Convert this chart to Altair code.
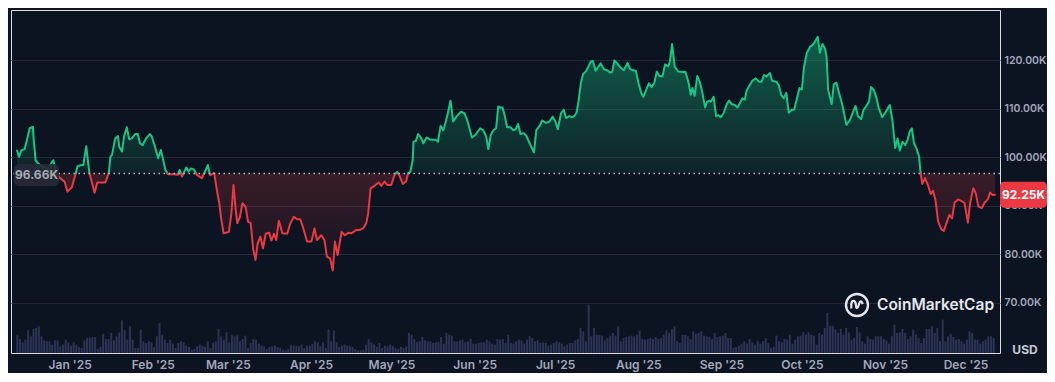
import altair as alt
import pandas as pd

START = pd.Timestamp("2024-12-12")
BASE = 96.66
LAST = 92.25
GREEN = "#16c784"
RED = "#ea3943"
BG = "#0d1421"
GRID = "#262a36"
LABEL = "#a1a7bb"
VOLC = "#2c3456"

# days since 2024-12-12 and BTC price in thousands USD
day = [0.4, 1.1, 2.0, 3.2, 4.1, 5.1, 6.3, 6.6, 7.3, 8.1, 9.2, 10.7, 12.2, 13.2, 13.9, 14.8, 15.9, 17.3, 18.1, 19.2,
       20.8, 22.3, 22.9, 24.1, 25.1, 26.2, 26.9, 27.4, 28.4, 29.3, 30.3, 31.5, 33.3, 34.6, 35.2, 35.8, 37.0, 38.0, 38.5, 39.5,
       40.3, 41.3, 42.2, 43.2, 44.4, 45.4, 46.2, 47.2, 48.5, 49.9, 50.6, 51.8, 53.0, 54.0, 54.6, 55.7, 56.7, 59.2, 60.4, 61.0,
       61.9, 62.7, 63.5, 64.3, 65.3, 66.3, 67.5, 69.3, 70.2, 71.5, 72.4, 73.9, 74.9, 75.8, 76.4, 77.4, 78.2, 79.4, 80.3, 81.1,
       81.9, 82.5, 83.5, 84.4, 85.6, 86.5, 87.5, 88.5, 89.3, 90.1, 91.1, 92.1, 93.1, 94.4, 95.2, 96.2, 97.0, 98.0, 99.3, 101.1,
       102.3, 103.6, 104.8, 106.0, 107.3, 108.5, 110.1, 111.3, 112.2, 113.8, 115.0, 115.9, 117.1, 118.1, 118.9, 119.9, 121.4, 122.6, 123.9, 125.1,
       126.9, 128.2, 129.4, 130.6, 131.3, 132.2, 133.7, 135.2, 136.2, 137.4, 138.4, 139.9, 141.1, 142.1, 142.9, 144.2, 145.4, 146.2, 147.0, 147.9,
       148.2, 149.1, 149.9, 150.9, 151.9, 153.1, 154.6, 156.5, 157.3, 158.3, 159.3, 160.1, 161.0, 162.0, 163.0, 164.2, 165.9, 167.2, 168.2, 170.0,
       171.2, 173.1, 174.3, 175.3, 176.1, 177.0, 178.0, 179.0, 179.8, 180.4, 181.4, 182.3, 183.1, 184.4, 185.3, 186.3, 187.2, 188.1, 189.3, 190.3,
       191.5, 193.1, 194.0, 195.2, 196.2, 197.7, 198.9, 200.1, 201.1, 202.0, 203.2, 204.2, 205.1, 206.3, 207.3, 208.1, 209.0, 209.7, 210.6, 211.4,
       212.4, 213.4, 214.3, 215.1, 216.1, 217.1, 218.0, 219.2, 220.4, 221.4, 222.3, 223.1, 224.1, 225.3, 226.6, 228.0, 229.0, 230.3, 231.1, 232.1,
       233.1, 233.9, 235.2, 236.0, 237.0, 238.0, 238.9, 239.9, 241.0, 242.0, 243.2, 243.8, 244.6, 245.6, 246.9, 248.7, 249.6, 250.8, 251.6, 252.2,
       253.0, 254.0, 254.9, 255.7, 256.9, 257.7, 258.6, 259.1, 260.1, 261.0, 261.9, 262.8, 263.8, 265.0, 265.9, 266.8, 268.0, 269.0, 270.0, 270.8,
       271.7, 272.4, 274.5, 275.8, 277.0, 277.9, 278.9, 279.8, 281.1, 281.9, 283.5, 284.4, 285.3, 286.2, 287.2, 288.1, 289.3, 290.1, 291.1, 292.1,
       293.0, 293.8, 294.8, 296.0, 297.0, 297.9, 298.9, 299.7, 300.7, 301.6, 302.2, 302.8, 304.1, 304.9, 305.9, 306.9, 308.1, 309.6, 310.8, 312.1,
       313.0, 313.9, 315.1, 316.0, 317.0, 318.0, 318.8, 319.8, 320.7, 321.7, 322.9, 324.1, 325.0, 325.8, 326.8, 327.8, 328.7, 329.5, 330.5, 331.5,
       332.4, 333.2, 334.0, 334.8, 335.7, 336.7, 337.3, 337.9, 338.9, 340.1, 341.0, 341.9, 342.8, 343.8, 345.0, 345.9, 347.1, 348.0, 349.0, 349.9,
       351.2, 352.4, 353.6, 354.9, 355.7, 356.9, 357.8, 358.8, 360.1, 361.1, 362.3, 363.2, 364.1, 365.0]
price_k = [101.4, 100.1, 101.4, 101.7, 103.6, 106.0, 106.3, 103.6, 99.4, 98.8, 98.3, 97.8, 97.5, 98.8, 99.4, 97.2, 96.0, 95.3, 95.0, 92.9,
           93.8, 96.7, 98.1, 98.4, 98.4, 102.3, 98.8, 96.7, 94.6, 92.7, 94.8, 94.8, 94.8, 96.7, 100.1, 100.5, 103.9, 104.4, 102.2, 101.2,
           104.3, 106.2, 103.7, 103.9, 104.8, 104.8, 102.9, 102.5, 103.9, 104.8, 104.3, 102.2, 99.8, 101.5, 100.1, 97.4, 96.5, 96.5, 96.4, 97.4,
           96.0, 97.0, 97.9, 97.1, 97.7, 97.5, 96.3, 95.7, 96.7, 98.4, 96.3, 96.7, 93.2, 90.5, 87.7, 84.3, 84.4, 84.6, 88.4, 94.3,
           89.1, 86.4, 87.7, 90.5, 89.8, 86.7, 86.4, 80.8, 78.8, 82.2, 83.6, 81.2, 84.2, 84.4, 82.8, 84.2, 82.9, 86.9, 84.3, 84.2,
           86.4, 87.7, 87.2, 87.2, 85.0, 82.6, 82.6, 85.3, 82.9, 83.9, 82.9, 79.5, 79.1, 76.6, 82.6, 79.8, 84.6, 83.9, 84.4, 84.3,
           85.0, 85.0, 85.3, 86.4, 88.4, 93.6, 94.1, 94.8, 94.1, 95.0, 94.3, 94.3, 96.3, 97.0, 96.3, 94.5, 95.0, 96.7, 97.0, 99.4,
           103.2, 103.4, 104.8, 104.1, 102.9, 104.1, 103.6, 103.6, 103.2, 106.5, 105.6, 107.1, 109.1, 111.7, 107.4, 108.4, 109.4, 109.1, 107.7, 104.1,
           104.6, 106.0, 105.5, 104.3, 101.7, 104.6, 105.6, 106.0, 110.5, 110.3, 110.3, 108.4, 106.2, 106.2, 105.6, 105.8, 106.9, 104.8, 105.0, 104.4,
           102.9, 101.0, 105.6, 106.5, 107.6, 107.1, 107.4, 108.4, 107.4, 105.8, 109.1, 109.8, 108.1, 108.5, 108.3, 108.5, 109.2, 111.5, 115.3, 117.2,
           117.7, 118.7, 119.8, 119.9, 117.9, 118.7, 119.4, 118.2, 118.0, 117.5, 117.6, 120.0, 119.4, 118.6, 118.0, 119.5, 118.2, 118.0, 117.9, 115.3,
           113.3, 112.5, 114.3, 115.3, 114.5, 115.4, 117.7, 116.8, 116.7, 119.2, 118.8, 119.8, 123.4, 118.7, 117.7, 117.6, 117.6, 115.3, 112.9, 114.3,
           112.7, 116.8, 115.6, 113.9, 110.3, 111.5, 111.7, 111.5, 112.5, 108.5, 108.7, 108.3, 109.1, 111.0, 111.7, 111.0, 110.8, 110.3, 111.3, 112.2,
           111.9, 113.8, 115.8, 116.3, 115.6, 115.6, 117.0, 116.7, 117.4, 115.8, 115.6, 114.9, 112.9, 112.2, 113.3, 109.2, 109.8, 109.8, 112.0, 114.3,
           114.0, 118.7, 121.5, 122.8, 123.2, 123.9, 124.9, 121.6, 123.4, 122.5, 120.8, 113.9, 111.0, 115.1, 115.4, 113.2, 110.8, 106.7, 107.6, 109.4,
           110.6, 108.5, 107.9, 109.8, 110.6, 111.5, 114.5, 113.9, 112.5, 110.1, 108.3, 109.2, 110.1, 110.8, 107.4, 101.9, 103.9, 101.4, 103.2, 102.5,
           103.6, 105.3, 106.0, 102.9, 101.9, 100.1, 96.5, 94.5, 95.7, 94.1, 92.4, 93.1, 91.2, 86.7, 85.1, 84.8, 86.7, 88.1, 87.4, 90.6,
           91.3, 91.0, 90.6, 86.5, 90.5, 93.6, 92.6, 89.8, 89.5, 90.6, 91.3, 92.7, 92.2, 92.25]

# daily volume bars (arbitrary units)
vol_part1 = [27.5, 21, 16, 20, 34, 25, 36, 37.5, 40, 25, 19, 17.5,
             17.5, 12.5, 19, 19, 10, 12.5, 20, 16, 11, 16, 12.5, 9,
             7.5, 19, 22.5, 23.5, 24, 24, 6, 9, 29, 21, 21,
             30, 19, 25, 31, 49, 34, 20, 40, 20, 7.5, 7.5, 35, 17.5,
             15, 17.5, 16, 9, 25, 45, 27.5, 20, 15, 20, 14, 7.5,
             15, 17.5, 16, 11, 9, 5, 6, 10, 12.5, 11, 9, 17.5,
             7.5, 15, 17.5, 36, 25, 20, 31, 16, 27.5, 25, 27.5, 17.5,
             21, 26, 7.5, 15, 21, 20, 14, 11, 10, 6, 9, 10,
             11, 9, 7.5, 5, 4, 6, 12.5, 11, 11, 10, 12.5, 7.5,
             11, 11, 14, 17.5, 16, 10, 16, 7.5, 35, 17.5, 34, 16,
             9, 11, 12.5, 11, 11]
vol_part2 = [9, 6, 4, 4, 5, 12.5, 21, 16, 12.5, 9, 15,
             7.5, 11, 10, 12.5, 11, 7.5, 6, 9, 7.5, 10,
             30, 27.5, 21, 16, 17.5, 24, 19, 17.5, 17.5, 15, 16, 16,
             24, 14, 30, 27.5, 26, 17.5, 17.5, 19, 20, 16, 17.5,
             21, 14, 14, 15, 16, 16, 20, 17.5, 14, 12.5, 21,
             20, 21, 15, 27.5, 15, 14, 17.5, 20, 19, 14, 20,
             25, 22.5, 17.5, 19, 15, 16, 15, 11, 12.5, 15, 17.5,
             16, 14, 10, 12.5, 15, 15, 19, 21, 37.5, 32.5, 17.5,
             72.5, 25, 37.5, 27.5, 27.5, 26, 19, 22.5, 26, 30, 26,
             40, 17.5, 22.5, 24, 25, 26, 25, 27.5, 34, 21, 20,
             21, 22.5, 21, 24, 21, 22.5, 27.5, 34, 30, 36, 40,
             17.5, 15, 27.5, 27.5, 25, 21, 32.5, 29]
vol_part3 = [30, 32.5, 26, 25, 24, 21, 30, 24, 25,
             26, 30, 22.5, 22.5, 7.5, 9, 11, 14, 17.5,
             14, 21, 16, 12.5, 17.5, 14, 17.5, 22.5, 15,
             7.5, 9, 26, 17.5, 16, 21, 20, 27.5, 14,
             20, 25, 26, 31, 27.5, 31, 27.5, 26, 12.5, 30, 27.5, 37.5, 60, 41, 41, 35, 30, 36, 27.5, 37.5, 31, 20,
             22.5, 39, 31, 17.5, 14, 25, 21, 20, 25, 25, 25, 21,
             19, 14, 25, 42.5, 30, 31, 36, 30, 21, 25, 35, 27.5,
             22.5, 15, 22.5, 36, 36, 40, 30, 37.5, 17.5, 50, 17.5, 25,
             29, 24, 20, 21, 17.5, 14, 20, 32.5, 30,
             20, 20, 14, 17.5, 20, 25, 25, 22.5]
volume = vol_part1 + vol_part2 + vol_part3

month_ticks = [alt.DateTime(year=2025, month=m, date=1) for m in range(1, 13)]
y_ticks = [70, 80, 90, 100, 110, 120]

assert len(day) == len(price_k)

# ---- build tables -------------------------------------------------------
seq = []
pts = list(zip(day, price_k))
for i, (d, p) in enumerate(pts):
    if i:
        d0, p0 = pts[i - 1]
        if (p0 - BASE) * (p - BASE) < 0:
            f = (BASE - p0) / (p - p0)
            seq.append((d0 + f * (d - d0), BASE, True))
    seq.append((d, p, p == BASE))

runs = [[]]
for d, p, cross in seq:
    runs[-1].append((d, p))
    if cross:
        runs.append([(d, p)])
line_rows = []
for k, run in enumerate(runs):
    ps = [p for _, p in run if p != BASE]
    if not ps:
        continue
    side = "up" if ps[0] > BASE else "down"
    for d, p in run:
        line_rows.append({"t": START + pd.Timedelta(days=d), "p": p, "seg": k, "side": side})
line_df = pd.DataFrame(line_rows)

area_df = pd.DataFrame({
    "t": [START + pd.Timedelta(days=d) for d, _, _ in seq],
    "up": [max(p, BASE) for _, p, _ in seq],
    "dn": [min(p, BASE) for _, p, _ in seq],
})
vol_df = pd.DataFrame({
    "t": [START + pd.Timedelta(days=i + 0.5) for i in range(len(volume))],
    "v": volume,
})
base_df = pd.DataFrame({"v": [BASE], "lab": [f"{BASE:.2f}K"]})
last_df = pd.DataFrame({"v": [LAST], "lab": [f"{LAST:.2f}K"]})
one = pd.DataFrame({"a": [0]})

# ---- encodings ----------------------------------------------------------
xscale = alt.Scale(domain=[alt.DateTime(year=2024, month=12, date=12),
                           alt.DateTime(year=2025, month=12, date=12)])
xaxis = alt.Axis(values=month_ticks, format="%b '%y", title=None, grid=False, domain=False,
                 tickSize=0, labelPadding=6, labelColor=LABEL, labelFont="Inter", labelFontSize=12,
                 labelFontWeight=600, labelOverlap=False, labelFlush=False)
xenc = alt.X("t:T", scale=xscale, axis=xaxis)
yscale = alt.Scale(domain=[59.57, 130.43], nice=False, zero=False)
yaxis = alt.Axis(orient="right", values=y_ticks, labelExpr="format(datum.value, '.2f') + 'K'",
                 title=None, grid=True, gridColor=GRID, gridWidth=1, domain=False, tickSize=0,
                 labelPadding=4, labelColor=LABEL, labelFont="Inter", labelFontSize=10.5,
                 labelFontWeight=600, labelAlign="left", labelBaseline="middle")

def Y(field):
    return alt.Y(field, scale=yscale, axis=yaxis)

vol = alt.Chart(vol_df).mark_bar(width=2, color=VOLC).encode(
    x=xenc, y=alt.Y("v:Q", scale=alt.Scale(domain=[0, 514.5]), axis=None))

area_up = alt.Chart(area_df).mark_area(
    color=alt.Gradient(gradient="linear",
                       stops=[alt.GradientStop(color="rgba(22,199,132,0.42)", offset=0),
                              alt.GradientStop(color="rgba(22,199,132,0.08)", offset=1)],
                       x1=0, x2=0, y1=0, y2=1)
).encode(x=xenc, y=Y("up:Q"), y2=alt.datum(BASE))

area_dn = alt.Chart(area_df).mark_area(
    color=alt.Gradient(gradient="linear",
                       stops=[alt.GradientStop(color="rgba(234,57,67,0.20)", offset=0),
                              alt.GradientStop(color="rgba(234,57,67,0.02)", offset=1)],
                       x1=0, x2=0, y1=0, y2=1)
).encode(x=xenc, y=Y("dn:Q"), y2=alt.datum(BASE))

lines = alt.Chart(line_df).mark_line(strokeWidth=2, strokeJoin="round", strokeCap="round").encode(
    x=xenc, y=Y("p:Q"),
    color=alt.Color("side:N", scale=alt.Scale(domain=["up", "down"], range=[GREEN, RED]), legend=None),
    detail="seg:N")

rule = alt.Chart(base_df).mark_rule(color="#b4b9c6", strokeDash=[1.5, 3.5], strokeWidth=1.5).encode(y=Y("v:Q"))

base_box = alt.Chart(base_df).mark_rect(color="#262a36", opacity=0.92, cornerRadius=5,
                                        yOffset=-9.5, y2Offset=12.5).encode(
    x=alt.value(3), x2=alt.value(48), y=Y("v:Q"), y2="v:Q")
base_txt = alt.Chart(base_df).mark_text(color="#a5a9b5", font="Inter", fontSize=12, fontWeight=700,
                                        dy=1.5).encode(x=alt.value(25.5), y=Y("v:Q"), text="lab:N")

badge = alt.Chart(last_df).mark_rect(color=RED, cornerRadius=4, yOffset=-13, y2Offset=13).encode(
    x=alt.value(989), x2=alt.value(1036), y=Y("v:Q"), y2="v:Q")
badge_txt = alt.Chart(last_df).mark_text(color="white", font="Inter", fontSize=12, fontWeight=700).encode(
    x=alt.value(1012.5), y=Y("v:Q"), text="lab:N")

price = alt.layer(area_up, area_dn, lines, rule, base_box, base_txt, badge, badge_txt)

LOGO_WAVE = ("M -0.52 0.32 L -0.52 -0.05 Q -0.5 -0.42 -0.28 -0.38 Q -0.12 -0.32 -0.1 0.0 "
             "L -0.08 0.18 Q -0.02 0.4 0.12 0.1 L 0.22 -0.2 Q 0.32 -0.45 0.45 -0.25 L 0.52 -0.08")
logo_ring = alt.Chart(one).mark_point(shape="circle", size=484, filled=False, strokeWidth=2.4,
                                      color="#e4e7ee", opacity=1).encode(x=alt.value(846), y=alt.value(295))
logo_wave = alt.Chart(one).mark_point(shape=LOGO_WAVE, size=484, filled=False, strokeWidth=2.2,
                                      color="#e4e7ee", opacity=1, strokeJoin="round").encode(
    x=alt.value(846), y=alt.value(295))
logo_txt = alt.Chart(one).mark_text(text="CoinMarketCap", align="left", baseline="middle", font="Inter",
                                    fontSize=15.5, fontWeight=600, color="#e4e7ee").encode(
    x=alt.value(866), y=alt.value(295))
usd_txt = alt.Chart(one).mark_text(text="USD", align="center", baseline="middle", font="Inter",
                                   fontSize=12, fontWeight=700, color="#c3c8d4").encode(
    x=alt.value(1014), y=alt.value(340))

chart = alt.layer(vol, price, logo_ring, logo_wave, logo_txt, usd_txt).resolve_scale(
    y="independent"
).properties(
    width=989, height=343, background=BG,
    autosize=alt.AutoSizeParams(type="none"),
    padding={"left": 3, "top": 2, "right": 47, "bottom": 20},
).configure_view(stroke=GRID, strokeWidth=1).configure(font="Inter")

chart.save("out.html", embed_options={"renderer": "svg", "actions": False})
